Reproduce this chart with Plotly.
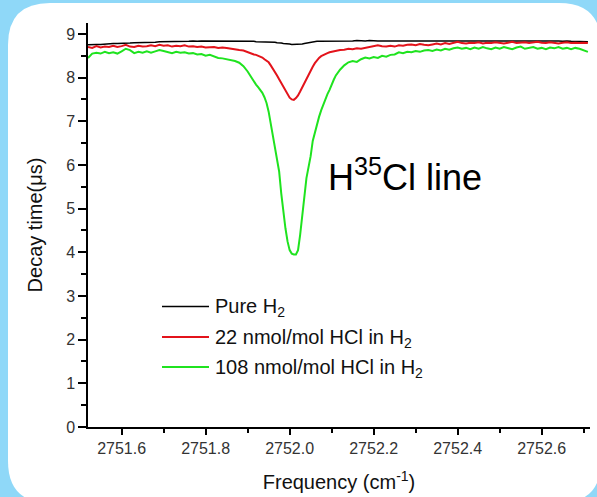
import plotly.graph_objects as go

# ---------------- data ----------------
freq = [
    2751.52, 2751.53, 2751.54, 2751.55, 2751.56, 2751.57, 2751.58, 2751.59, 2751.60, 2751.61,
    2751.62, 2751.63, 2751.64, 2751.65, 2751.66, 2751.67, 2751.68, 2751.69, 2751.70, 2751.71,
    2751.72, 2751.73, 2751.74, 2751.75, 2751.76, 2751.77, 2751.78, 2751.79, 2751.80, 2751.81,
    2751.82, 2751.83, 2751.84, 2751.85, 2751.86, 2751.87, 2751.88, 2751.89, 2751.90,
    2751.905, 2751.910, 2751.915, 2751.920, 2751.925, 2751.930, 2751.935, 2751.940, 2751.945,
    2751.950, 2751.955, 2751.960, 2751.965, 2751.970, 2751.975, 2751.980, 2751.985, 2751.990,
    2751.995, 2752.000, 2752.005, 2752.010, 2752.015, 2752.020, 2752.025, 2752.030, 2752.035,
    2752.040, 2752.045, 2752.050, 2752.055, 2752.060, 2752.065, 2752.070, 2752.075, 2752.080,
    2752.085, 2752.090, 2752.095, 2752.100, 2752.105, 2752.110, 2752.115, 2752.120,
    2752.13, 2752.14, 2752.15, 2752.16, 2752.17, 2752.18, 2752.19, 2752.20, 2752.21, 2752.22,
    2752.23, 2752.24, 2752.25, 2752.26, 2752.27, 2752.28, 2752.29, 2752.30, 2752.31, 2752.32,
    2752.33, 2752.34, 2752.35, 2752.36, 2752.37, 2752.38, 2752.39, 2752.40, 2752.41, 2752.42,
    2752.43, 2752.44, 2752.45, 2752.46, 2752.47, 2752.48, 2752.49, 2752.50, 2752.51, 2752.52,
    2752.53, 2752.54, 2752.55, 2752.56, 2752.57, 2752.58, 2752.59, 2752.60, 2752.61, 2752.62,
    2752.63, 2752.64, 2752.65, 2752.66, 2752.67, 2752.68, 2752.69, 2752.70, 2752.71,
]

pure_h2 = [
    8.75, 8.76, 8.76, 8.76, 8.77, 8.77, 8.78, 8.78, 8.78, 8.79,
    8.79, 8.80, 8.80, 8.80, 8.81, 8.81, 8.81, 8.82, 8.82, 8.82,
    8.82, 8.83, 8.83, 8.83, 8.83, 8.84, 8.83, 8.84, 8.84, 8.84,
    8.84, 8.84, 8.84, 8.84, 8.83, 8.84, 8.83, 8.83, 8.83,
    8.83, 8.83, 8.83, 8.82, 8.82, 8.82, 8.82, 8.82, 8.82,
    8.82, 8.81, 8.81, 8.81, 8.80, 8.80, 8.79, 8.78, 8.78,
    8.77, 8.77, 8.76, 8.76, 8.76, 8.76, 8.76, 8.77, 8.78,
    8.79, 8.80, 8.81, 8.82, 8.82, 8.83, 8.83, 8.83, 8.83,
    8.83, 8.84, 8.84, 8.84, 8.84, 8.84, 8.84, 8.84,
    8.84, 8.84, 8.84, 8.85, 8.84, 8.84, 8.85, 8.84, 8.84, 8.84,
    8.84, 8.85, 8.84, 8.84, 8.84, 8.85, 8.84, 8.84, 8.84, 8.84,
    8.84, 8.84, 8.85, 8.84, 8.84, 8.84, 8.85, 8.85, 8.84, 8.84,
    8.84, 8.84, 8.84, 8.85, 8.84, 8.84, 8.84, 8.84, 8.85, 8.84,
    8.84, 8.84, 8.84, 8.84, 8.85, 8.84, 8.84, 8.84, 8.84, 8.84,
    8.84, 8.84, 8.83, 8.84, 8.83, 8.83, 8.83, 8.82, 8.82,
]

hcl_22 = [
    8.70, 8.68, 8.72, 8.69, 8.71, 8.70, 8.73, 8.70, 8.72, 8.75,
    8.71, 8.70, 8.73, 8.71, 8.72, 8.74, 8.72, 8.75, 8.73, 8.74,
    8.71, 8.73, 8.72, 8.74, 8.71, 8.72, 8.70, 8.71, 8.69, 8.69,
    8.70, 8.68, 8.69, 8.68, 8.66, 8.65, 8.63, 8.62, 8.58,
    8.57, 8.55, 8.53, 8.52, 8.50, 8.48, 8.46, 8.42, 8.39,
    8.35, 8.28, 8.21, 8.13, 8.05, 7.96, 7.87, 7.78, 7.70,
    7.61, 7.54, 7.50, 7.49, 7.53, 7.59, 7.68, 7.78, 7.87,
    7.97, 8.07, 8.16, 8.25, 8.33, 8.40, 8.45, 8.49, 8.52,
    8.54, 8.56, 8.58, 8.59, 8.61, 8.62, 8.63, 8.63,
    8.64, 8.66, 8.65, 8.67, 8.66, 8.68, 8.70, 8.71, 8.74, 8.72,
    8.71, 8.73, 8.71, 8.74, 8.73, 8.75, 8.76, 8.74, 8.77, 8.75,
    8.74, 8.76, 8.78, 8.76, 8.79, 8.77, 8.80, 8.82, 8.79, 8.78,
    8.80, 8.79, 8.81, 8.78, 8.80, 8.79, 8.81, 8.80, 8.78, 8.80,
    8.82, 8.79, 8.80, 8.81, 8.79, 8.80, 8.82, 8.80, 8.79, 8.81,
    8.80, 8.78, 8.80, 8.81, 8.79, 8.80, 8.79, 8.80, 8.79,
]

hcl_108 = [
    8.45, 8.55, 8.57, 8.55, 8.59, 8.56, 8.58, 8.55, 8.60, 8.66,
    8.63, 8.56, 8.59, 8.57, 8.60, 8.57, 8.60, 8.63, 8.61, 8.58,
    8.56, 8.59, 8.57, 8.58, 8.55, 8.56, 8.53, 8.54, 8.50, 8.52,
    8.48, 8.45, 8.44, 8.42, 8.40, 8.38, 8.34, 8.26, 8.14,
    8.06, 7.98, 7.90, 7.84, 7.78, 7.72, 7.65, 7.55, 7.42,
    7.22, 6.95, 6.75, 6.45, 6.15, 5.85, 5.35, 4.90, 4.55,
    4.25, 4.05, 3.97, 3.95, 3.95, 4.05, 4.40, 4.85, 5.25,
    5.70, 5.95, 6.20, 6.55, 6.75, 6.95, 7.10, 7.25, 7.38,
    7.50, 7.62, 7.72, 7.85, 7.95, 8.05, 8.12, 8.18,
    8.28, 8.35, 8.38, 8.36, 8.42, 8.46, 8.44, 8.47, 8.45, 8.50,
    8.48, 8.52, 8.53, 8.58, 8.56, 8.59, 8.58, 8.61, 8.59, 8.62,
    8.63, 8.61, 8.64, 8.62, 8.66, 8.64, 8.67, 8.69, 8.66, 8.68,
    8.65, 8.69, 8.66, 8.70, 8.67, 8.65, 8.69, 8.66, 8.70, 8.67,
    8.65, 8.69, 8.71, 8.66, 8.68, 8.70, 8.66, 8.68, 8.65, 8.69,
    8.67, 8.70, 8.66, 8.68, 8.65, 8.68, 8.66, 8.63, 8.59,
]

series_names = ["Pure H<sub>2</sub>",
                "22 nmol/mol HCl in H<sub>2</sub>",
                "108 nmol/mol HCl in H<sub>2</sub>"]
series_values = [pure_h2, hcl_22, hcl_108]
series_colors = ["#000000", "#e3131b", "#1fe31f"]
series_widths = [1.5, 2, 2]

x_ticks = [2751.6, 2751.8, 2752.0, 2752.2, 2752.4, 2752.6]
x_tick_labels = ["2751.6", "2751.8", "2752.0", "2752.2", "2752.4", "2752.6"]
y_ticks = [0, 1, 2, 3, 4, 5, 6, 7, 8, 9]
y_tick_labels = ["0", "1", "2", "3", "4", "5", "6", "7", "8", "9"]

assert all(len(v) == len(freq) for v in series_values)

# ---------------- figure ----------------
W, H = 597, 497
ML, MR, MT, MB = 88, 7, 23, 70
PW, PH = W - ML - MR, H - MT - MB


def px(x):
    return (x - ML) / PW


def py(y):
    return (H - MB - y) / PH


FONT = "Arial, Liberation Sans, sans-serif"

fig = go.Figure()
for name, vals, col, lw in zip(series_names, series_values, series_colors, series_widths):
    fig.add_trace(go.Scatter(x=freq, y=vals, mode="lines", name=name,
                             line=dict(color=col, width=lw), showlegend=False))

# white rounded panel on light-blue page
L, R, T, B = px(8), px(601), py(3), py(503)
rx, ry = 42 / PW, 42 / PH
panel = (f"M {L+rx},{T} L {R-rx},{T} Q {R},{T} {R},{T-ry} "
         f"L {R},{B+ry} Q {R},{B} {R-rx},{B} "
         f"L {L+rx},{B} Q {L},{B} {L},{B+ry} "
         f"L {L},{T-ry} Q {L},{T} {L+rx},{T} Z")
shapes = [dict(type="path", xref="paper", yref="paper", path=panel,
               fillcolor="white", line=dict(width=0), layer="below")]

annotations = []
legend_rows = [306.5, 337, 367]
for name, col, lw, yy in zip(series_names, series_colors, series_widths, legend_rows):
    shapes.append(dict(type="line", xref="paper", yref="paper",
                       x0=px(162), x1=px(209), y0=py(yy), y1=py(yy),
                       line=dict(color=col, width=lw)))
    annotations.append(dict(xref="paper", yref="paper", x=px(213), y=py(yy + 1),
                            xanchor="left", yanchor="middle", showarrow=False,
                            text=name, font=dict(family=FONT, size=20, color="#111111")))

annotations.append(dict(xref="paper", yref="paper", x=px(326), y=py(175),
                        xanchor="left", yanchor="middle", showarrow=False,
                        text="H<sup>35</sup>Cl line",
                        font=dict(family=FONT, size=36, color="#000000")))

fig.update_layout(
    width=W, height=H, autosize=False,
    margin=dict(l=ML, r=MR, t=MT, b=MB, pad=0),
    paper_bgcolor="#8fd8f8",
    plot_bgcolor="rgba(0,0,0,0)",
    shapes=shapes,
    annotations=annotations,
    showlegend=False,
    font=dict(family=FONT, size=16, color="#222222"),
)

fig.update_xaxes(
    range=[2751.52, 2752.715],
    tickmode="array", tickvals=x_ticks, ticktext=x_tick_labels,
    ticks="outside", ticklen=6, tickwidth=1.5, tickcolor="#000",
    minor=dict(dtick=0.1, tick0=2751.5, ticks="outside", ticklen=4,
               tickwidth=1.5, tickcolor="#000", showgrid=False),
    showline=True, linecolor="#000", linewidth=1.5, mirror=False,
    showgrid=False, zeroline=False,
    tickfont=dict(family=FONT, size=16, color="#333333"),
    title=dict(text="Frequency (cm<sup>-1</sup>)", standoff=19,
               font=dict(family=FONT, size=20, color="#111111")),
)

fig.update_yaxes(
    range=[0, 9.25],
    tickmode="array", tickvals=y_ticks, ticktext=y_tick_labels,
    ticks="outside", ticklen=8, tickwidth=1.5, tickcolor="#000",
    minor=dict(dtick=0.5, tick0=0, ticks="outside", ticklen=5,
               tickwidth=1.5, tickcolor="#000", showgrid=False),
    showline=True, linecolor="#000", linewidth=1.5, mirror=False,
    showgrid=False, zeroline=False,
    tickfont=dict(family=FONT, size=16, color="#333333"),
    title=dict(text="Decay time(μs)", standoff=18,
               font=dict(family=FONT, size=20, color="#111111")),
)

fig.write_html(
    "out.html",
    config={"displayModeBar": False},
    post_script="document.body.style.margin='0px';document.body.style.padding='0px';"
                "document.documentElement.style.background='#8fd8f8';",
)
